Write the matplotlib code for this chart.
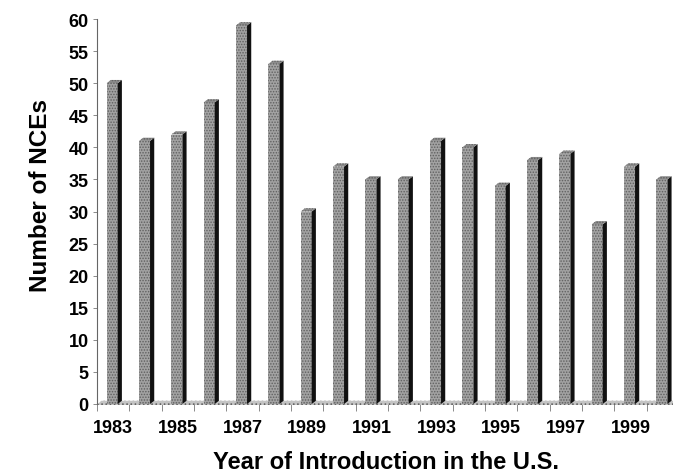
"""
NCE introductions per year, drawn as Excel-style 3D columns.
"""

import matplotlib.pyplot as plt
from matplotlib.patches import Polygon
import numpy as np

plt.rcParams.update(
    {
        "font.family": ["Liberation Sans", "DejaVu Sans"],
        "font.weight": "bold",
        "hatch.linewidth": 0.7,
    }
)

# ============================================================================
# Data
# ============================================================================

years = list(range(1983, 2001))
nce_counts = [50, 41, 42, 47, 59, 53, 30, 37, 35, 35, 41, 40, 34, 38, 39, 28, 37, 35]
tick_years = [y for y in years if y % 2 == 1]

# ============================================================================
# Style
# ============================================================================

FRONT = "#a2a2a2"
STIPPLE = "#606060"
SIDE = "#111111"
TOP = "#8c8c8c"

bar_width = 0.34
bar_shift = -0.03
depth_x = 0.13
depth_y = 0.5

fig = plt.figure(figsize=(6.73, 4.77), dpi=100)
ax = fig.add_axes([97 / 673, 72 / 477, 582 / 673, 385 / 477])

x = np.arange(len(years))

# front faces
bars = ax.bar(
    x + bar_shift,
    nce_counts,
    width=bar_width,
    color=FRONT,
    edgecolor=STIPPLE,
    linewidth=0,
    hatch="......",
    zorder=3,
)

# side and top faces
for rect in bars:
    x0 = rect.get_x()
    x1 = x0 + rect.get_width()
    h = rect.get_height()
    side = Polygon(
        [(x1, 0), (x1 + depth_x, depth_y), (x1 + depth_x, h + depth_y), (x1, h)],
        closed=True, facecolor=SIDE, edgecolor="none", zorder=3,
    )
    top = Polygon(
        [(x0, h), (x0 + depth_x, h + depth_y), (x1 + depth_x, h + depth_y), (x1, h)],
        closed=True, facecolor=TOP, edgecolor=STIPPLE, linewidth=0,
        hatch="......", zorder=3,
    )
    ax.add_patch(side)
    ax.add_patch(top)

# floor strip
floor = Polygon(
    [(-0.5, -0.15), (len(years) - 0.5, -0.15),
     (len(years) - 0.5 + depth_x, depth_y), (-0.5 + depth_x, depth_y)],
    closed=True, facecolor="#c4c4c4", edgecolor=STIPPLE, linewidth=0,
    hatch="....", zorder=2, clip_on=False,
)
ax.add_patch(floor)

ax.set_xlim(-0.5, len(years) - 0.5)
ax.set_ylim(0, 60)

ax.set_yticks(np.arange(0, 61, 5))
ax.tick_params(axis="y", length=3, width=0.6, color="#777777", pad=3,
               labelsize=13)

ax.set_xticks([years.index(y) for y in tick_years])
ax.set_xticklabels([str(y) for y in tick_years])
ax.set_xticks(np.arange(len(years) + 1) - 0.5, minor=True)
ax.tick_params(axis="x", which="major", length=0, pad=11, labelsize=13)
ax.tick_params(axis="x", which="minor", length=5, width=0.6, color="#777777")

for side_name in ["top", "right", "bottom"]:
    ax.spines[side_name].set_visible(False)
ax.spines["left"].set_linestyle((0, (1, 1)))
ax.spines["left"].set_color("#666666")
ax.spines["left"].set_linewidth(0.8)

fig.text(41 / 673, 1 - 195 / 477, "Number of NCEs", rotation=90,
         ha="center", va="center", fontsize=17.5, fontweight="bold")
fig.text(386 / 673, 1 - 463 / 477, "Year of Introduction in the U.S.",
         ha="center", va="center", fontsize=17, fontweight="bold")

fig.savefig("out.png", dpi=100)
plt.close(fig)
